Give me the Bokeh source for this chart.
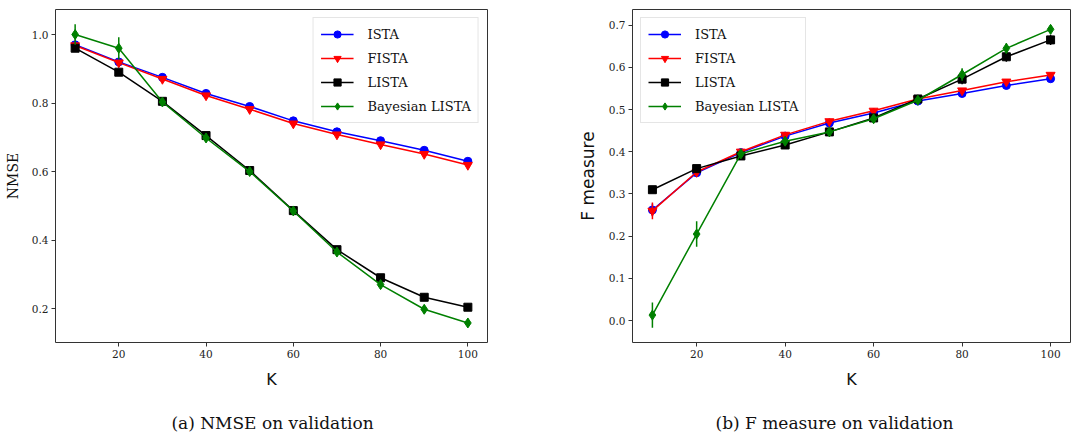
import numpy as np
from bokeh.plotting import figure
from bokeh.layouts import row, column
from bokeh.models import Range1d, FixedTicker, Legend, LegendItem, Label, ColumnDataSource
from bokeh.embed import file_html
from bokeh.resources import INLINE

K = [10, 20, 30, 40, 50, 60, 70, 80, 90, 100]

# NMSE on validation
nmse_ista = [0.970, 0.920, 0.875, 0.828, 0.790, 0.748, 0.716, 0.690, 0.662, 0.630]
nmse_fista = [0.968, 0.918, 0.870, 0.822, 0.782, 0.740, 0.708, 0.679, 0.651, 0.619]
nmse_lista = [0.960, 0.890, 0.805, 0.705, 0.603, 0.486, 0.372, 0.290, 0.233, 0.204]
nmse_blista = [1.000, 0.960, 0.803, 0.698, 0.600, 0.485, 0.365, 0.270, 0.198, 0.158]
nmse_ista_err = [0.004, 0.004, 0.004, 0.004, 0.004, 0.004, 0.004, 0.004, 0.004, 0.004]
nmse_fista_err = [0.006, 0.006, 0.006, 0.006, 0.006, 0.006, 0.006, 0.006, 0.006, 0.006]
nmse_lista_err = [0.008, 0.008, 0.008, 0.008, 0.008, 0.008, 0.008, 0.008, 0.010, 0.010]
nmse_blista_err = [0.030, 0.032, 0.010, 0.010, 0.010, 0.010, 0.010, 0.012, 0.012, 0.012]

# F measure on validation
f_ista = [0.262, 0.350, 0.398, 0.437, 0.468, 0.492, 0.520, 0.538, 0.557, 0.573]
f_fista = [0.260, 0.352, 0.400, 0.440, 0.472, 0.497, 0.525, 0.545, 0.566, 0.582]
f_lista = [0.310, 0.360, 0.390, 0.416, 0.447, 0.480, 0.525, 0.572, 0.625, 0.665]
f_blista = [0.013, 0.205, 0.395, 0.425, 0.447, 0.478, 0.522, 0.583, 0.645, 0.690]
f_ista_err = [0.015, 0.005, 0.005, 0.005, 0.005, 0.005, 0.005, 0.005, 0.005, 0.005]
f_fista_err = [0.020, 0.006, 0.006, 0.006, 0.006, 0.006, 0.006, 0.006, 0.006, 0.006]
f_lista_err = [0.006, 0.006, 0.006, 0.006, 0.006, 0.010, 0.010, 0.012, 0.012, 0.012]
f_blista_err = [0.030, 0.030, 0.008, 0.008, 0.008, 0.008, 0.008, 0.015, 0.012, 0.010]

series_names = ["ISTA", "FISTA", "LISTA", "Bayesian LISTA"]
colors = ["#0000ff", "#ff0000", "#000000", "#008000"]
markers = ["circle", "inverted_triangle", "square", "diamond"]
msizes = [8, 9, 8, 10]

x_ticks = [20, 40, 60, 80, 100]
nmse_ticks = [0.2, 0.4, 0.6, 0.8, 1.0]
f_ticks = [0.0, 0.1, 0.2, 0.3, 0.4, 0.5, 0.6, 0.7]

captions = ["(a) NMSE on validation", "(b) F measure on validation"]

SERIF = "DejaVu Serif"
SANS = "DejaVu Sans"


def make_panel(width, border_left, border_right, yrange, yticks, ylabel, ylabel_font,
               ylabel_size, data, errs, legend_loc):
    p = figure(width=width, height=395, output_backend="svg", toolbar_location=None,
               x_range=Range1d(5.5, 104.5), y_range=Range1d(*yrange),
               min_border_left=border_left, min_border_right=border_right,
               min_border_top=9, min_border_bottom=53)
    p.grid.visible = False
    p.outline_line_color = "#333333"
    p.outline_line_width = 1
    p.background_fill_color = "white"
    p.border_fill_color = "white"
    for ax in (p.xaxis[0], p.yaxis[0]):
        ax.axis_line_color = None
        ax.major_tick_out = 4
        ax.major_tick_in = 0
        ax.minor_tick_line_color = None
        ax.major_tick_line_color = "#333333"
        ax.major_label_text_font = SERIF
        ax.major_label_text_font_size = "10.5px"
        ax.major_label_text_color = "#222222"
        ax.major_label_standoff = 3
        ax.axis_label_text_color = "#111111"
    p.xaxis.ticker = FixedTicker(ticks=x_ticks)
    p.yaxis.ticker = FixedTicker(ticks=yticks)
    p.yaxis.major_label_overrides = {t: f"{t:.1f}" for t in yticks}
    p.xaxis.axis_label = "K"
    p.xaxis.axis_label_text_font = SANS
    p.xaxis.axis_label_text_font_size = "16px"
    p.xaxis.axis_label_text_font_style = "normal"
    p.xaxis.axis_label_standoff = 9
    p.yaxis.axis_label = ylabel
    p.yaxis.axis_label_text_font = ylabel_font
    p.yaxis.axis_label_text_font_size = ylabel_size
    p.yaxis.axis_label_text_font_style = "normal"
    p.yaxis.axis_label_standoff = 8

    items = []
    for name, col, mk, ms, ys, es in zip(series_names, colors, markers, msizes, data, errs):
        lo = [y - e for y, e in zip(ys, es)]
        hi = [y + e for y, e in zip(ys, es)]
        src = ColumnDataSource(dict(x=K, y=ys, lo=lo, hi=hi))
        p.segment(x0="x", y0="lo", x1="x", y1="hi", source=src, line_color=col, line_width=1.5)
        r_line = p.line("x", "y", source=src, line_color=col, line_width=1.5)
        r_mk = p.scatter("x", "y", source=src, marker=mk, size=ms, fill_color=col, line_color=col)
        items.append(LegendItem(label=name, renderers=[r_line, r_mk]))

    leg = Legend(items=items, location=legend_loc, margin=8)
    leg.label_text_font = SERIF
    leg.label_text_font_size = "13px"
    leg.label_text_color = "#111111"
    leg.glyph_width = 33
    leg.glyph_height = 18
    leg.label_standoff = 14
    leg.label_height = 18
    leg.spacing = 6
    leg.padding = 7
    leg.border_line_color = "#cccccc"
    leg.border_line_width = 1
    leg.background_fill_alpha = 0.8
    p.add_layout(leg)
    return p


p1 = make_panel(536, 55, 49, (0.101, 1.073), nmse_ticks, "NMSE", SERIF, "14px",
                [nmse_ista, nmse_fista, nmse_lista, nmse_blista],
                [nmse_ista_err, nmse_fista_err, nmse_lista_err, nmse_blista_err],
                "top_right")
p2 = make_panel(537, 96, 3, (-0.052, 0.737), f_ticks, "F measure", SANS, "17px",
                [f_ista, f_fista, f_lista, f_blista],
                [f_ista_err, f_fista_err, f_lista_err, f_blista_err],
                "top_left")

# caption strip under the two panels
pc = figure(width=1073, height=42, output_backend="svg", toolbar_location=None,
            x_range=Range1d(0, 1), y_range=Range1d(0, 1),
            min_border_left=0, min_border_right=0, min_border_top=0, min_border_bottom=0)
pc.axis.visible = False
pc.grid.visible = False
pc.outline_line_color = None
for cx, txt in zip([272, 834], captions):
    pc.add_layout(Label(x=cx, y=15, x_units="screen", y_units="screen", text=txt,
                        text_font=SERIF, text_font_size="17px", text_color="#111111",
                        text_align="center", text_baseline="middle"))

layout = column(row(p1, p2, spacing=0), pc, spacing=0)
open("out.html", "w").write(file_html(layout, INLINE))
